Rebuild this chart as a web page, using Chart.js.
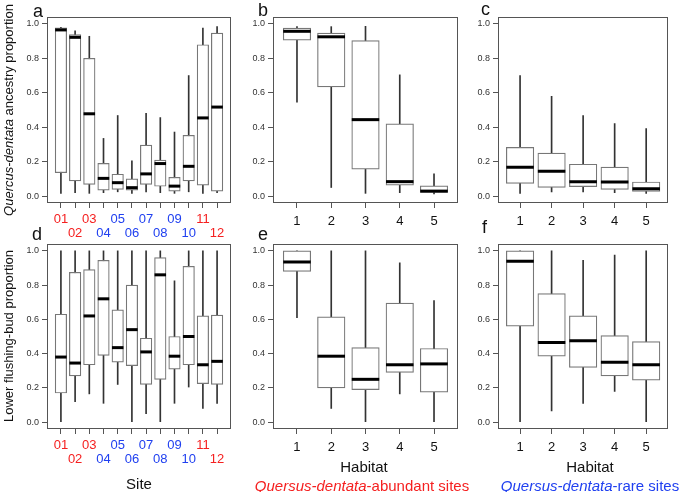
<!DOCTYPE html>
<html><head><meta charset="utf-8">
<script src="https://cdn.jsdelivr.net/npm/chart.js@4/dist/chart.umd.min.js"></script>
<style>
html,body{margin:0;padding:0;background:#fff;}
#wrap{position:relative;width:685px;height:492px;overflow:hidden;font-family:"Liberation Sans",Arial,sans-serif;}
canvas{position:absolute;left:0;top:0;}
.t{position:absolute;white-space:nowrap;color:#111;line-height:1;}
.c{transform:translate(-50%,-50%);}
.rot{transform:translate(-50%,-50%) rotate(-90deg);}
.let{font-size:18px;}
</style></head><body>
<div id="wrap">
<canvas id="pa" width="685" height="492"></canvas>
<canvas id="pb" width="685" height="492"></canvas>
<canvas id="pc" width="685" height="492"></canvas>
<canvas id="pd" width="685" height="492"></canvas>
<canvas id="pe" width="685" height="492"></canvas>
<canvas id="pf" width="685" height="492"></canvas>

<div class="t let" style="left:33px;top:2px;">a</div>
<div class="t let" style="left:258px;top:1px;">b</div>
<div class="t let" style="left:481px;top:0px;">c</div>
<div class="t let" style="left:32px;top:225px;">d</div>
<div class="t let" style="left:258px;top:225px;">e</div>
<div class="t let" style="left:482px;top:218px;">f</div>

<div class="t rot" style="left:8px;top:110px;font-size:13px;"><i>Quercus-dentata</i> ancestry proportion</div>
<div class="t rot" style="left:8px;top:336px;font-size:13px;">Lower flushing-bud proportion</div>

<div class="t c" style="left:139px;top:483px;font-size:15px;">Site</div>
<div class="t c" style="left:364px;top:466px;font-size:15px;">Habitat</div>
<div class="t c" style="left:590px;top:466px;font-size:15px;">Habitat</div>
<div class="t c" style="left:362px;top:485px;font-size:15px;color:#f52020;"><i>Quersus-dentata</i>-abundant sites</div>
<div class="t c" style="left:590px;top:485px;font-size:15px;color:#2040f0;"><i>Quersus-dentata</i>-rare sites</div>
</div>
<script>
// ---- data: each entry is [min, lower quartile, median, upper quartile, max] ----
const siteLabels = ['01','02','03','04','05','06','07','08','09','10','11','12'];
const siteGroup = ['abundant','abundant','abundant','rare','rare','rare','rare','rare','rare','rare','abundant','abundant'];
const habitatLabels = ['1','2','3','4','5'];
const yTickValues = [0, 0.2, 0.4, 0.6, 0.8, 1.0];

const ancestryBySite = [
  [0.016,0.136,0.965,0.977,0.980],
  [0.020,0.088,0.922,0.938,0.960],
  [0.016,0.068,0.478,0.800,0.928],
  [0.020,0.035,0.103,0.190,0.335],
  [0.025,0.039,0.078,0.127,0.468],
  [0.016,0.035,0.049,0.100,0.205],
  [0.025,0.068,0.129,0.296,0.480],
  [0.020,0.057,0.189,0.209,0.456],
  [0.016,0.029,0.058,0.109,0.372],
  [0.025,0.088,0.173,0.353,0.700],
  [0.016,0.064,0.454,0.879,0.975],
  [0.020,0.029,0.517,0.947,0.985]
];
const ancestryAbundant = [
  [0.546,0.906,0.957,0.975,0.984],
  [0.050,0.634,0.925,0.947,0.984],
  [0.016,0.156,0.444,0.903,0.986],
  [0.020,0.064,0.084,0.419,0.704],
  [0.012,0.021,0.029,0.060,0.129]
];
const ancestryRare = [
  [0.016,0.074,0.168,0.283,0.700],
  [0.025,0.051,0.144,0.250,0.579],
  [0.025,0.055,0.084,0.185,0.468],
  [0.020,0.039,0.082,0.168,0.421],
  [0.016,0.027,0.043,0.082,0.392]
];
const flushingBySite = [
  [0.000,0.170,0.380,0.630,1.000],
  [0.120,0.270,0.345,0.875,1.000],
  [0.165,0.335,0.620,0.890,1.000],
  [0.110,0.390,0.720,0.945,1.000],
  [0.220,0.350,0.435,0.655,1.000],
  [0.000,0.330,0.540,0.800,1.000],
  [0.050,0.220,0.410,0.490,1.000],
  [0.000,0.250,0.860,0.960,1.000],
  [0.110,0.310,0.385,0.500,0.825],
  [0.205,0.335,0.500,0.910,1.000],
  [0.080,0.225,0.335,0.620,1.000],
  [0.110,0.220,0.355,0.625,1.000]
];
const flushingAbundant = [
  [0.610,0.880,0.935,1.000,1.000],
  [0.080,0.200,0.385,0.615,1.000],
  [0.000,0.190,0.250,0.435,1.000],
  [0.165,0.290,0.335,0.695,0.930],
  [0.000,0.175,0.340,0.430,0.710]
];
const flushingRare = [
  [0.000,0.560,0.940,1.000,1.000],
  [0.065,0.385,0.465,0.750,1.000],
  [0.110,0.320,0.475,0.620,0.945],
  [0.180,0.270,0.350,0.505,0.975],
  [0.000,0.245,0.335,0.470,1.000]
];

// ---- drawing ----
Chart.defaults.font.family = '"Liberation Sans", Arial, sans-serif';
const groupColor = {abundant:'#f52020', rare:'#2040f0'};
const W = 685, H = 492, YW = 30, XH = 45;

const framePlugin = {
  id: 'frame',
  afterDraw(chart) {
    const a = chart.chartArea, c = chart.ctx;
    c.save();
    c.strokeStyle = '#555'; c.lineWidth = 1;
    c.strokeRect(Math.round(a.left) + 0.5, Math.round(a.top) + 0.5,
                 Math.round(a.right - a.left) - 1, Math.round(a.bottom - a.top) - 1);
    c.restore();
  }
};

function makePanel(id, stats, labels, box, boxW, twoRow) {
  const n = stats.length;
  const xs = stats.map((_, i) => i + 1);
  new Chart(document.getElementById(id), {
    type: 'bar',
    data: {
      datasets: [
        { type: 'bar', data: xs.map((x, i) => ({x, y: [stats[i][0], stats[i][4]]})),
          backgroundColor: '#333333', barThickness: 1, grouped: false, order: 3 },
        { type: 'bar', data: xs.map((x, i) => ({x, y: [stats[i][1], stats[i][3]]})),
          backgroundColor: '#ffffff', borderColor: '#777777', borderWidth: 1.2,
          borderSkipped: false, barThickness: boxW, grouped: false, order: 2 },
        { type: 'line', data: xs.map((x, i) => ({x, y: stats[i][2]})),
          showLine: false, pointStyle: 'line', pointRadius: boxW / 2, pointHoverRadius: boxW / 2,
          pointBorderColor: '#000', pointBorderWidth: 3, order: 1 }
      ]
    },
    options: {
      responsive: false, animation: false, devicePixelRatio: 1,
      events: [],
      layout: { padding: { left: box.L - YW, top: box.T, right: W - box.R, bottom: H - box.B - XH } },
      plugins: { legend: { display: false }, tooltip: { enabled: false } },
      scales: {
        x: {
          type: 'linear', min: 0.5 - 0.04 * n, max: n + 0.5 + 0.04 * n, offset: false,
          afterBuildTicks: s => { s.ticks = xs.map(v => ({value: v})); },
          afterFit: s => { s.height = XH; },
          grid: { display: true, drawOnChartArea: false, drawTicks: true, tickLength: 5,
                  tickColor: '#555', offset: false },
          border: { display: false },
          ticks: {
            autoSkip: false, maxRotation: 0, minRotation: 0, padding: twoRow ? 5 : 6.5,
            font: { size: 13, lineHeight: twoRow ? '13.5px' : 1 },
            color: ctx => twoRow ? groupColor[siteGroup[ctx.index]] : '#111',
            callback: (v, i) => twoRow ? (i % 2 === 0 ? [labels[i], ''] : ['', labels[i]]) : labels[i]
          }
        },
        y: {
          type: 'linear', min: -0.04, max: 1.04,
          afterBuildTicks: s => { s.ticks = yTickValues.map(v => ({value: v})); },
          afterFit: s => { s.width = YW; },
          grid: { display: true, drawOnChartArea: false, drawTicks: true, tickLength: 5, tickColor: '#555' },
          border: { display: false },
          ticks: { padding: 3, font: { size: 9 }, color: '#333', callback: v => v.toFixed(1) }
        }
      }
    },
    plugins: [framePlugin]
  });
}

makePanel('pa', ancestryBySite,   siteLabels,    {L:47,  T:17,  R:231, B:203}, 11.5, true);
makePanel('pb', ancestryAbundant, habitatLabels, {L:273, T:17,  R:458, B:203}, 27.5, false);
makePanel('pc', ancestryRare,     habitatLabels, {L:498, T:17,  R:683, B:203}, 27.5, false);
makePanel('pd', flushingBySite,   siteLabels,    {L:47,  T:244, R:231, B:429}, 11.5, true);
makePanel('pe', flushingAbundant, habitatLabels, {L:273, T:244, R:458, B:429}, 27.5, false);
makePanel('pf', flushingRare,     habitatLabels, {L:498, T:244, R:683, B:429}, 27.5, false);
</script>
</body></html>
